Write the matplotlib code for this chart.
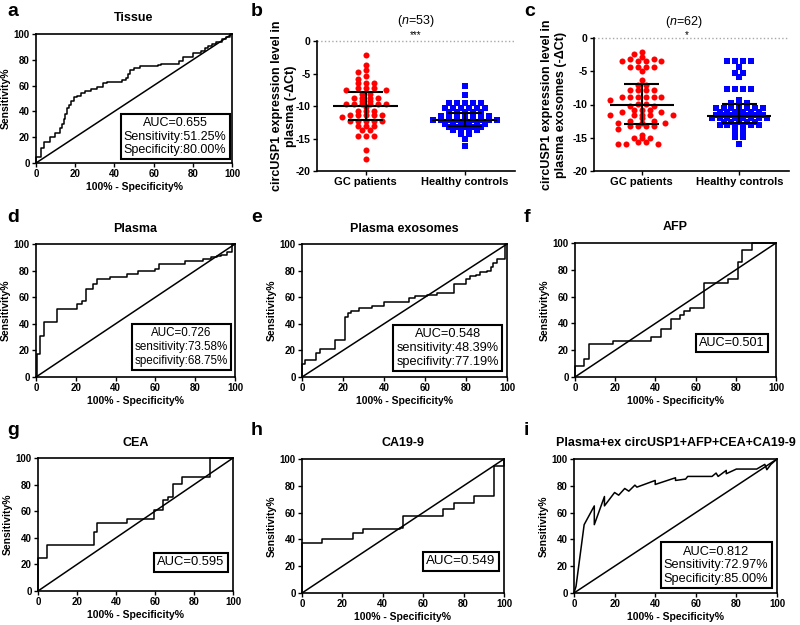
import numpy as np
import matplotlib
matplotlib.use('Agg')
import matplotlib.pyplot as plt

plt.rcParams['font.family'] = ['Liberation Sans', 'DejaVu Sans']
plt.rcParams['mathtext.fontset'] = 'custom'
plt.rcParams['mathtext.rm'] = 'Liberation Sans'
plt.rcParams['mathtext.it'] = 'Liberation Sans:italic'

# ---- データ ----
groups = ['GC patients', 'Healthy controls']

# b: plasma
plasma_gc = [-2.15, -3.7, -4.5, -4.8, -5.4, -5.8, -6.4, -6.4, -6.4, -7.2, -7.2, -7.2,
             -7.6, -7.6, -8.2, -8.2, -8.7, -8.7, -8.7, -8.7, -9.2, -9.2,
             -9.7, -9.7, -9.7, -9.7, -9.7, -9.7, -10.2, -10.7, -10.7, -10.7,
             -11.4, -11.4, -11.4, -11.4, -11.4, -11.75, -12.3, -12.3, -12.3, -12.3, -12.3,
             -13.1, -13.1, -13.1, -13.7, -13.7, -14.6, -14.6, -14.6, -16.7, -18.2]
plasma_hc = [-6.9, -8.3, -9.6, -9.6, -9.6, -9.6, -9.6,
             -10.3, -10.3, -10.3, -10.3, -10.3, -10.3,
             -10.9, -10.9, -10.9, -10.9, -10.9,
             -11.6, -11.6, -11.6, -11.6, -11.6, -11.6, -11.6,
             -12.2, -12.2, -12.2, -12.2, -12.2, -12.2, -12.2, -12.2, -12.2,
             -12.7, -12.7, -12.7, -12.7, -12.7, -12.7,
             -13.2, -13.2, -13.2, -13.2, -13.2,
             -13.7, -13.7, -13.7, -13.7, -14.3, -14.3, -15.0, -16.2]
# median, lower, upper
plasma_stats = [(-10.05, -12.1, -7.8), (-12.15, -13.1, -11.1)]

# c: plasma exosomes
exo_gc = [-2.1, -2.4, -2.8, -3.1, -3.1, -3.4, -3.4, -3.4, -3.4,
          -4.4, -4.4, -4.4, -4.4, -4.9, -6.3, -7.0, -7.0, -7.8, -7.8, -7.8, -7.8,
          -8.9, -8.9, -8.9, -8.9, -8.9, -8.9, -9.3, -9.9, -9.9, -10.2, -10.2,
          -10.8, -10.8, -10.8, -11.2, -11.2, -11.6, -11.6, -11.6, -11.6, -11.6,
          -12.1, -12.5, -12.5, -12.8, -12.8, -12.8, -13.3, -13.3, -13.3, -13.3,
          -13.7, -14.6, -15.1, -15.1, -15.1, -15.6, -15.6, -15.9, -15.9, -15.9]
exo_hc = [-3.4, -3.4, -3.4, -3.4, -4.3, -5.2, -5.2, -5.8, -7.7, -7.7, -7.7, -7.7,
          -9.3, -9.8, -9.8, -9.8,
          -10.6, -10.6, -10.6, -10.6, -10.6, -10.6, -10.6,
          -11.1, -11.1, -11.1, -11.1, -11.1, -11.1,
          -11.6, -11.6, -11.6, -11.6, -11.6, -11.6, -11.6,
          -12.1, -12.1, -12.1, -12.1, -12.1, -12.1, -12.1, -12.1,
          -12.6, -12.6, -12.6, -12.6, -12.6,
          -13.1, -13.1, -13.1, -13.1, -13.1, -13.1, -13.6, -13.6, -14.1, -14.1, -14.9, -14.9, -15.9]
exo_stats = [(-10.1, -12.9, -6.95), (-11.75, -12.75, -9.97)]

# ROC曲線 (x: 100%-Specificity%, y: Sensitivity%)
tissue_x = [0, 0, 2.5, 4, 7, 9.5, 12, 13.5, 14.5, 15, 16, 17, 18, 19.5, 21, 23, 25, 28, 31, 34,
            36, 44, 46, 47, 48, 50, 53, 62, 64, 73, 75, 80, 84, 86, 88, 90, 92, 95, 97, 99, 100]
tissue_y = [0, 5, 12, 16, 20, 23, 27, 30, 34, 38, 43, 45, 48, 51, 52, 54, 56, 57, 59, 62,
            63, 64, 66, 69, 72, 74, 75, 76, 77, 79, 82, 85, 87, 89, 91, 92, 94, 96, 98, 100, 100]

plasma_x = [0, 0.7, 2, 4.2, 10.4, 20.8, 23, 25, 28.5, 30.8, 37, 45.5, 51.4, 59.8, 62, 75, 84,
            88, 91, 93, 96, 98.5, 100]
plasma_y = [0, 17, 30.5, 41.5, 51, 55, 57, 66, 70, 74, 75.5, 77.5, 79.5, 81, 85, 87, 89,
            90, 91, 92, 94, 100, 100]

exo_x = [0, 0, 1.5, 7, 9, 16, 21, 22.5, 24, 28, 34, 40, 52, 55, 61, 66, 74, 80, 82, 85,
         87, 90, 92, 93, 95, 99, 100]
exo_y = [0, 10, 13, 18, 21, 27.5, 45, 48, 50, 52, 53.5, 56.5, 59.5, 61, 62, 63, 70, 74, 76, 77,
         79, 80, 83, 86, 88.5, 100, 100]

afp_x = [0, 0, 4.5, 7, 19, 38, 43, 48, 52, 54, 57, 64, 76, 81, 83, 88, 100]
afp_y = [0, 8.5, 13.5, 24.5, 27, 30, 35.5, 43.5, 46, 49, 51.5, 70.5, 73, 86, 95, 100, 100]

cea_x = [0, 0, 4.5, 28.5, 30.5, 45.5, 59.5, 64, 66.5, 69, 74, 88, 100]
cea_y = [0, 24.5, 34.5, 44, 51.5, 54, 61, 68.5, 71, 80.5, 85.5, 100, 100]

ca199_x = [0, 0, 10, 25, 30, 48.5, 50, 70, 75, 85, 95, 100]
ca199_y = [0, 37.5, 40, 45, 47.5, 48.5, 57.5, 62.5, 67.5, 72.5, 95, 100]

comb_x = [0, 1, 5, 10, 10, 15, 15, 20, 22, 25, 27, 30, 31, 40, 40, 50, 50, 55, 56, 68,
          70, 71, 75, 75, 80, 90, 94, 95, 96, 97, 100]
comb_y = [0, 5, 51, 65, 51, 72, 65, 75, 73, 78, 76, 80.5, 79, 84, 81, 86, 84, 85, 87, 87,
          89.5, 87, 91.5, 89, 92.5, 92.5, 96, 92, 94, 96, 100]

fig = plt.figure(figsize=(8, 6.25), dpi=100)


def bold_ticks(ax, xt, yt, size):
    ax.set_xticks(xt, [str(t) for t in xt], fontweight='bold', fontsize=size)
    ax.set_yticks(yt, [str(t) for t in yt], fontweight='bold', fontsize=size)


# ROCパネル
def roc_panel(rect, title, fx, fy, text, bx, by, fs, step=True):
    ax = fig.add_axes(rect)
    ax.plot([0, 100], [0, 100], color='black', lw=1.1)
    ax.plot(fx, fy, color='black', lw=1.1, clip_on=False,
            drawstyle='steps-post' if step else 'default')
    ax.set_xlim(0, 100)
    ax.set_ylim(0, 100)
    bold_ticks(ax, [0, 20, 40, 60, 80, 100], [0, 20, 40, 60, 80, 100], 7)
    ax.tick_params(direction='out', length=3, width=1, pad=1.5)
    for s in ax.spines.values():
        s.set_linewidth(1.2)
    ax.set_xlabel('100% - Specificity%', fontweight='bold', fontsize=7.5, labelpad=2)
    ax.set_ylabel('Sensitivity%', fontweight='bold', fontsize=7.5, labelpad=2)
    ax.set_title(title, fontweight='bold', fontsize=9, pad=9)
    ax.text(bx, by, text, ha='center', va='center', fontsize=fs, multialignment='center',
            bbox=dict(boxstyle='square,pad=0.25', fc='white', ec='black', lw=1.5))
    return ax


# 点の横ずらし (Prism風: 同じ値の点を横一列に並べ、近い行とは重ならないようにずらす)
def swarm(vals, xs=99.0, ys=6.6, slot=8.0, gap=3.2):
    vals = np.asarray(vals, float)
    offs = np.zeros(len(vals))
    placed = []
    for v in np.unique(vals)[::-1]:
        idx = np.where(vals == v)[0]
        n = len(idx)
        base = 0.0 if n % 2 else slot / 2
        pos = np.arange(0, 14) * slot + base
        cand = sorted(set(np.concatenate([pos, -pos])), key=lambda c: (abs(c), c))
        y = v * ys
        chosen = []
        for c in cand:
            if len(chosen) == n:
                break
            if all(abs(c - px) >= 6 or abs(y - py) >= gap for px, py in placed):
                chosen.append(c)
        placed += [(c, y) for c in chosen]
        offs[idx] = np.array(chosen) / xs
    return offs


# 散布図パネル
def scatter_panel(rect, gc, hc, stats, ylabel, labx, ntext, nx, ny, star, sx, sy):
    ax = fig.add_axes(rect)
    ax.axhline(0, color='#a8a8a8', ls=':', lw=1, clip_on=False)
    ax.scatter(0 + swarm(gc), gc, s=19, c='#ff0000', marker='o', linewidths=0, zorder=2)
    ax.scatter(1 + swarm(hc), hc, s=15, c='#0000ff', marker='s', linewidths=0, zorder=2)
    for i, (med, lo, hi) in enumerate(stats):
        ax.hlines(med, i - 0.33, i + 0.33, color='black', lw=1.5, zorder=3)
        ax.vlines(i, lo, hi, color='black', lw=1.5, zorder=3)
        ax.hlines([lo, hi], i - 0.18, i + 0.18, color='black', lw=1.5, zorder=3)
    ax.set_xlim(-0.49, 1.51)
    ax.set_ylim(-20, 0)
    ax.spines['top'].set_visible(False)
    ax.spines['right'].set_visible(False)
    ax.spines['left'].set_linewidth(1.2)
    ax.spines['bottom'].set_linewidth(1.2)
    ax.set_xticks([0, 1], groups, fontweight='bold', fontsize=8)
    ax.set_yticks([0, -5, -10, -15, -20], ['0', '-5', '-10', '-15', '-20'],
                  fontweight='bold', fontsize=7.5)
    ax.tick_params(direction='out', length=3, width=1, pad=1.5)
    ax.set_ylabel(ylabel, fontweight='bold', fontsize=9)
    ax.yaxis.set_label_coords(labx, 0.5)
    ax.text(nx, ny, ntext, transform=ax.transAxes, ha='center', va='center', fontsize=9)
    ax.text(sx, sy, star, transform=ax.transAxes, ha='center', va='center', fontsize=7)
    return ax


W, H = 800.0, 625.0


def rect(l, r, t, b):
    return [l / W, 1 - b / H, (r - l) / W, (b - t) / H]


roc_panel(rect(36, 232, 34, 163), 'Tissue', tissue_x, tissue_y,
          'AUC=0.655\nSensitivity:51.25%\nSpecificity:80.00%', 71, 20.5, 9)
scatter_panel(rect(317, 515, 41, 171), plasma_gc, plasma_hc, plasma_stats,
              'circUSP1 expression level in\nplasma (-ΔCt)', -0.10,
              '(' + r'$\mathit{n}$' + '=53)', 0.5, 1.155, '***', 0.5, 1.045)
scatter_panel(rect(594, 789, 38, 171), exo_gc, exo_hc, exo_stats,
              'circUSP1 expression level in\nplasma exosomes (-ΔCt)', -0.14,
              '(' + r'$\mathit{n}$' + '=62)', 0.46, 1.12, '*', 0.475, 1.025)

roc_panel(rect(36, 235, 244, 377), 'Plasma', plasma_x, plasma_y,
          'AUC=0.726\nsensitivity:73.58%\nspecifivity:68.75%', 73, 22.5, 8.4)
roc_panel(rect(302, 507, 244, 377), 'Plasma exosomes', exo_x, exo_y,
          'AUC=0.548\nsensitivity:48.39%\nspecifivity:77.19%', 71, 21.7, 9.2)
roc_panel(rect(575, 776, 243, 377), 'AFP', afp_x, afp_y, 'AUC=0.501', 78, 25.3, 9.1)

roc_panel(rect(38, 233, 458, 591), 'CEA', cea_x, cea_y, 'AUC=0.595', 78.5, 21.5, 9.4)
roc_panel(rect(302, 504, 459, 593), 'CA19-9', ca199_x, ca199_y, 'AUC=0.549', 78.5, 23.7, 9.6)
roc_panel(rect(574, 777, 459, 593), 'Plasma+ex circUSP1+AFP+CEA+CA19-9', comb_x, comb_y,
          'AUC=0.812\nSensitivity:72.97%\nSpecificity:85.00%', 70, 20.6, 9.2, step=False)

# パネル記号
letters = ['a', 'b', 'c', 'd', 'e', 'f', 'g', 'h', 'i']
lx = [7, 251, 524]
ly = [16, 222, 435]
for k, let in enumerate(letters):
    fig.text(lx[k % 3] / W, 1 - ly[k // 3] / H, let, fontsize=14, fontweight='bold',
             va='baseline', ha='left')

fig.savefig('out.png', dpi=100)
